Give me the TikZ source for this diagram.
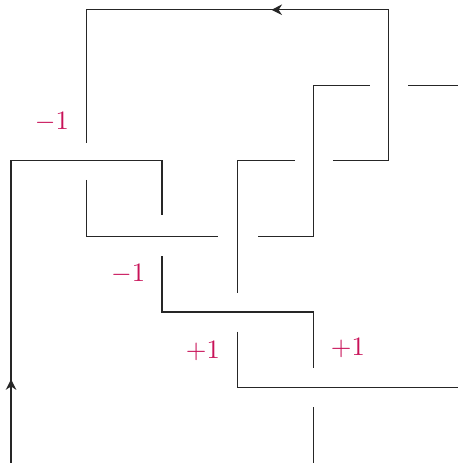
\documentclass[tikz,border=0pt]{standalone}
\usetikzlibrary{arrows.meta,decorations.markings}
\definecolor{signcol}{RGB}{200,18,88}
\begin{document}
\begin{tikzpicture}[x=1cm,y=1cm,
  strand/.style={line width=0.45pt,black!85},
  midarrow/.style={postaction={decorate},decoration={markings,mark=at position #1 with {\arrow{Stealth[length=4pt,width=4pt]}}}},
  sign/.style={text=signcol,inner sep=1pt}]
\useasboundingbox (-0.146,0) rectangle (5.92,6.13);
% coordinates
\coordinate (a0) at (0,0);
\coordinate (a1) at (0,4);
\coordinate (a2) at (2,4);
\coordinate (a3) at (2,3.28);
\coordinate (b0) at (1,3.75);
\coordinate (b1) at (1,3);
\coordinate (b2) at (2.74,3);
\coordinate (c0) at (3.27,3);
\coordinate (c1) at (4,3);
\coordinate (c2) at (4,5);
\coordinate (c3) at (4.75,5);
\coordinate (d0) at (5.26,5);
\coordinate (d1) at (5.92,5);
\coordinate (e0) at (4.26,4);
\coordinate (e1) at (5,4);
\coordinate (e2) at (5,6);
\coordinate (e3) at (1,6);
\coordinate (e4) at (1,4.24);
\coordinate (f0) at (3.76,4);
\coordinate (f1) at (3,4);
\coordinate (f2) at (3,2.25);
\coordinate (g0) at (2,2.74);
\coordinate (g1) at (2,2);
\coordinate (g2) at (4,2);
\coordinate (g3) at (4,1.26);
\coordinate (h0) at (3,1.74);
\coordinate (h1) at (3,1);
\coordinate (h2) at (5.92,1);
\coordinate (k0) at (4,0.74);
\coordinate (k1) at (4,0);
% strands
\draw[strand,midarrow=0.165] (a0) -- (a1) -- (a2) -- (a3);
\draw[strand,midarrow=0.505] (e0) -- (e1) -- (e2) -- (e3) -- (e4);
\draw[strand] (b0) -- (b1) -- (b2);
\draw[strand] (c0) -- (c1) -- (c2) -- (c3);
\draw[strand] (d0) -- (d1);
\draw[strand] (f0) -- (f1) -- (f2);
\draw[strand] (g0) -- (g1) -- (g2) -- (g3);
\draw[strand] (h0) -- (h1) -- (h2);
\draw[strand] (k0) -- (k1);
% signs
\node[sign] (s1) at (0.54,4.52) {$-1$};
\node[sign] (s2) at (1.55,2.5) {$-1$};
\node[sign] (s3) at (2.54,1.48) {$+1$};
\node[sign] (s4) at (4.46,1.52) {$+1$};
\end{tikzpicture}
\end{document}
